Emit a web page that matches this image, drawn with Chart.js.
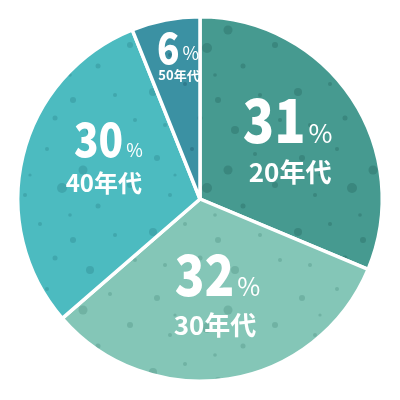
<!DOCTYPE html>
<html><head><meta charset="utf-8">
<script src="https://cdn.jsdelivr.net/npm/chart.js@4/dist/chart.umd.min.js"></script>
<style>html,body{margin:0;padding:0;background:#fff}#wrap{width:400px;height:400px}</style>
</head><body><div id="wrap"><canvas id="c" width="400" height="400"></canvas></div>
<script>
// data
const categories = ['20年代', '30年代', '40年代', '50年代'];
const values = [31, 32, 30, 6];
const percentUnit = '%';

// style
const baseColors = ['#469a90', '#84c6b7', '#4cbbc0', '#3b91a3'];
const dotColors = ['rgba(20,70,65,0.22)', 'rgba(40,110,95,0.22)', 'rgba(20,90,100,0.2)', 'rgba(15,60,80,0.25)'];
const numSize = [60, 57, 47, 43];
const pctSize = [26, 25, 18, 18];
const subSize = [26, 26, 24, 13];
const numScaleX = 0.86;
// label offsets from centre in reference-radius units (radius 182)
const groupOff = [[87.5, -56], [17.5, 97], [-91.5, -42], [-22, -135]];
const subOff = [[90, -17], [15, 136], [-96, -7], [-21, -119]];
// decorative speckle tile
const speckles = [[12,18,3],[47,9,2],[83,30,4.5],[110,14,2],[25,55,2],[62,48,5],[98,66,2.5],[8,92,4],[40,84,2],[73,100,3],[115,95,2],[55,118,2.5],[20,125,2],[90,130,4],[130,45,3],[135,120,2],[70,75,1.8],[30,35,1.6]];

function makePattern(base, dot) {
  const t = document.createElement('canvas');
  t.width = 145; t.height = 140;
  const g = t.getContext('2d');
  g.fillStyle = base; g.fillRect(0, 0, t.width, t.height);
  g.fillStyle = dot;
  speckles.forEach(([x, y, r]) => { g.beginPath(); g.arc(x, y, r, 0, Math.PI * 2); g.fill(); });
  return g.createPattern(t, 'repeat');
}
const patterns = baseColors.map((c, i) => makePattern(c, dotColors[i]));

const labelPlugin = {
  id: 'labels',
  afterDatasetsDraw(chart) {
    const ctx = chart.ctx;
    const meta = chart.getDatasetMeta(0);
    meta.data.forEach((arc, i) => {
      const { x, y, outerRadius } = arc.getProps(['x', 'y', 'outerRadius'], true);
      const s = outerRadius / 182;
      ctx.save();
      ctx.fillStyle = '#ffffff';
      ctx.textBaseline = 'alphabetic';
      const numTxt = String(values[i]);
      const numFont = `900 ${numSize[i]}px "Noto Sans CJK JP", "Noto Sans", sans-serif`;
      const pctFont = `${pctSize[i]}px "Noto Sans CJK JP", "Noto Sans", sans-serif`;
      ctx.font = numFont;
      const wn = ctx.measureText(numTxt).width * numScaleX;
      ctx.font = pctFont;
      const wp = ctx.measureText(percentUnit).width;
      const gap = 3;
      const total = wn + gap + wp;
      const gx = x + groupOff[i][0] * s - total / 2;
      const gy = y + groupOff[i][1] * s;
      ctx.textAlign = 'left';
      ctx.save();
      ctx.translate(gx, gy);
      ctx.scale(numScaleX, 1);
      ctx.font = numFont;
      ctx.fillText(numTxt, 0, 0);
      ctx.restore();
      ctx.font = pctFont;
      ctx.fillText(percentUnit, gx + wn + gap, gy - (i === 3 ? 4 : 0));
      ctx.textAlign = 'center';
      ctx.font = `bold ${subSize[i]}px "Noto Sans CJK JP", "Noto Sans", sans-serif`;
      ctx.fillText(categories[i], x + subOff[i][0] * s, y + subOff[i][1] * s);
      ctx.restore();
    });
  }
};

new Chart(document.getElementById('c'), {
  type: 'pie',
  data: {
    labels: categories,
    datasets: [{
      data: values,
      backgroundColor: patterns,
      borderColor: '#ffffff',
      borderWidth: 3.5,
      hoverOffset: 0
    }]
  },
  options: {
    responsive: false,
    animation: false,
    layout: { padding: { top: 15, bottom: 17, left: 16, right: 16 } },
    plugins: { legend: { display: false }, tooltip: { enabled: false } },
    events: []
  },
  plugins: [labelPlugin]
});
</script>
</body></html>
